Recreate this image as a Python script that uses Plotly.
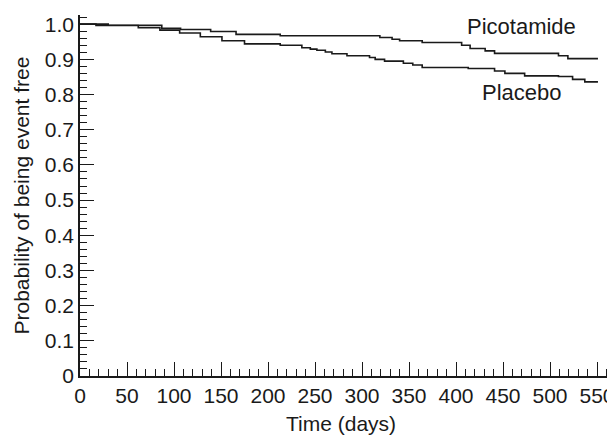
import plotly.graph_objects as go

# Kaplan-Meier step data
pico_days = [0, 30, 87, 107, 139, 166, 213, 319, 332, 340, 364, 406, 415, 431, 441, 509, 519, 551]
pico_surv = [1.0, 0.997, 0.988, 0.985, 0.979, 0.971, 0.967, 0.962, 0.957, 0.953, 0.948, 0.940, 0.931, 0.924, 0.917, 0.910, 0.902, 0.902]

plac_days = [0, 17, 62, 85, 106, 128, 151, 175, 213, 236, 245, 252, 261, 268, 284, 308, 314, 324,
             344, 354, 364, 413, 441, 452, 473, 509, 524, 537, 551]
plac_surv = [1.0, 0.996, 0.990, 0.983, 0.975, 0.964, 0.953, 0.944, 0.940, 0.933, 0.929, 0.926, 0.921,
             0.916, 0.910, 0.905, 0.900, 0.895, 0.889, 0.884, 0.877, 0.874, 0.867, 0.860, 0.853, 0.851,
             0.843, 0.836, 0.836]

x_ticks = [0, 50, 100, 150, 200, 250, 300, 350, 400, 450, 500, 550]
x_labels = [str(v) for v in x_ticks]
y_ticks = [0, 0.1, 0.2, 0.3, 0.4, 0.5, 0.6, 0.7, 0.8, 0.9, 1.0]
y_labels = ["0", "0.1", "0.2", "0.3", "0.4", "0.5", "0.6", "0.7", "0.8", "0.9", "1.0"]

series_names = ["Picotamide", "Placebo"]
label_pos_x = [470, 470]
label_pos_y = [0.992, 0.806]

x_title = "Time (days)"
y_title = "Probability of being event free"

FONT = "Liberation Sans, Arial, sans-serif"
INK = "#1a1a1a"
FS = 21

fig = go.Figure()
fig.add_trace(go.Scatter(x=pico_days, y=pico_surv, mode="lines", line=dict(shape="hv", color=INK, width=1.6),
                         name=series_names[0], showlegend=False))
fig.add_trace(go.Scatter(x=plac_days, y=plac_surv, mode="lines", line=dict(shape="hv", color=INK, width=1.6),
                         name=series_names[1], showlegend=False))

for name, ax, ay in zip(series_names, label_pos_x, label_pos_y):
    fig.add_annotation(x=ax, y=ay, text=name, showarrow=False, xanchor="center", yanchor="middle",
                       font=dict(size=22, color=INK, family=FONT))

# axis titles as paper-anchored annotations
fig.add_annotation(x=0.49, y=0, xref="paper", yref="paper", yshift=-47, text=x_title, showarrow=False,
                   xanchor="center", yanchor="middle", font=dict(size=FS, color=INK, family=FONT))
fig.add_annotation(x=0, y=0.5, xref="paper", yref="paper", xshift=-59, text=y_title, showarrow=False,
                   textangle=-90, xanchor="center", yanchor="middle", font=dict(size=FS, color=INK, family=FONT))

# page body adds an 8px offset, so the figure is 8px smaller than the window
fig.update_layout(
    width=607, height=428,
    margin=dict(l=72, r=2, t=7, b=60, autoexpand=False),
    paper_bgcolor="white", plot_bgcolor="white",
    font=dict(family=FONT, size=FS, color=INK),
    showlegend=False,
)
fig.update_xaxes(
    range=[0, 567], showgrid=False, zeroline=False, automargin=False,
    showline=True, linecolor=INK, linewidth=1.5,
    tickmode="array", tickvals=x_ticks, ticktext=x_labels,
    ticks="inside", ticklen=14, tickwidth=1.2, tickcolor=INK,
    tickfont=dict(size=FS, family=FONT, color=INK),
    minor=dict(tick0=0, dtick=10, ticks="inside", ticklen=7, tickwidth=1.2, tickcolor=INK, showgrid=False),
)
fig.update_yaxes(
    range=[0, 1.026], showgrid=False, zeroline=False, automargin=False,
    showline=True, linecolor=INK, linewidth=1.5,
    tickmode="array", tickvals=y_ticks, ticktext=y_labels,
    ticks="inside", ticklen=14, tickwidth=1.2, tickcolor=INK,
    tickfont=dict(size=FS, family=FONT, color=INK),
    minor=dict(tick0=0, dtick=0.02, ticks="inside", ticklen=7, tickwidth=1.2, tickcolor=INK, showgrid=False),
)

fig.write_html("out.html")
